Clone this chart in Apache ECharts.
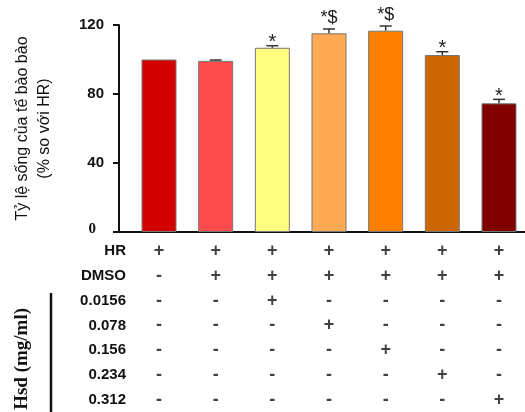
<!DOCTYPE html>
<html><head><meta charset="utf-8">
<script src="https://cdn.jsdelivr.net/npm/echarts@6/dist/echarts.min.js"></script>
<style>html,body{margin:0;padding:0;background:#fff}#c{width:525px;height:412px}</style>
</head><body><div id="c"></div>
<script>
// ---- data ----
const groups = ['HR', 'HR+DMSO', 'Hsd 0.0156', 'Hsd 0.078', 'Hsd 0.156', 'Hsd 0.234', 'Hsd 0.312'];
const values = [100, 99.2, 106.8, 115.2, 116.7, 102.6, 74.6];
const errors = [0, 0.5, 1.2, 2.5, 2.7, 1.9, 2.3];
const sigMarks = ['', '', '*', '*$', '*$', '*', '*'];
const barColors = ['#d40000', '#ff4b4b', '#ffff80', '#ffaa55', '#ff8000', '#cc6600', '#800000'];
const yTicks = [0, 40, 80, 120];
const rowLabels = ['HR', 'DMSO', '0.0156', '0.078', '0.156', '0.234', '0.312'];
const tableSigns = [
  ['+', '+', '+', '+', '+', '+', '+'],
  ['-', '+', '+', '+', '+', '+', '+'],
  ['-', '-', '+', '-', '-', '-', '-'],
  ['-', '-', '-', '+', '-', '-', '-'],
  ['-', '-', '-', '-', '+', '-', '-'],
  ['-', '-', '-', '-', '-', '+', '-'],
  ['-', '-', '-', '-', '-', '-', '+']
];
const yTitle = 'Tỷ lệ sống của tế bào bào\n(% so với HR)';
const tableTitle = 'Hsd (mg/ml)';

// ---- build ----
const FONT = 'Liberation Sans, Arial, sans-serif';
const barData = values.map((v, i) => ({ value: [i, v], itemStyle: { color: barColors[i] } }));
const errData = values.map((v, i) => [i, v, v + errors[i]]);
const tableData = [];
tableSigns.forEach((row, r) => row.forEach((s, c) => tableData.push([c, r, s])));

const chart = echarts.init(document.getElementById('c'));
chart.setOption({
  animation: false,
  backgroundColor: '#fff',
  grid: [
    { left: 119, right: 0, top: 25, bottom: 180 },
    { left: 128, right: 0, top: 239, height: 181 }
  ],
  xAxis: [
    { gridIndex: 0, type: 'value', min: -0.706, max: 6.459, axisLabel: { show: false },
      axisTick: { show: false }, splitLine: { show: false },
      axisLine: { show: true, onZero: false, lineStyle: { color: '#111', width: 2 } } },
    { gridIndex: 1, type: 'value', min: -0.547, max: 6.459, show: false }
  ],
  yAxis: [
    { gridIndex: 0, type: 'value', min: 0, max: 120, interval: 40,
      name: yTitle, nameLocation: 'middle', nameRotate: 90, nameGap: 63,
      nameTextStyle: { fontFamily: FONT, fontSize: 16, color: '#111', lineHeight: 22, align: 'center' },
      axisLine: { show: true, onZero: false, lineStyle: { color: '#111', width: 2 } },
      axisTick: { show: true, length: 6, lineStyle: { color: '#111', width: 2 } },
      splitLine: { show: false },
      axisLabel: { margin: 15, fontFamily: FONT, fontWeight: 'bold', fontSize: 15, color: '#111',
        formatter: v => v === 0 ? '{z|0}' : String(v),
        rich: { z: { fontFamily: 'Liberation Serif, serif', fontWeight: 'bold', fontSize: 15, color: '#111', padding: [0, 8, 6, 0] } } } },
    { gridIndex: 1, type: 'category', data: rowLabels, inverse: true,
      axisLine: { show: false }, axisTick: { show: false }, splitLine: { show: false },
      axisLabel: { margin: 2, fontFamily: FONT, fontWeight: 'bold', fontSize: 15, color: '#111' } }
  ],
  graphic: [
    { type: 'text', left: 13, top: 308, rotation: Math.PI / 2,
      style: { text: tableTitle, fontFamily: 'Liberation Serif, serif', fontWeight: 'bold', fontSize: 19, fill: '#111' } },
    { type: 'line', shape: { x1: 51, y1: 293, x2: 51, y2: 412 }, style: { stroke: '#111', lineWidth: 2.5 } }
  ],
  series: [
    { type: 'bar', xAxisIndex: 0, yAxisIndex: 0, data: barData, barWidth: 35,
      itemStyle: { borderColor: '#777', borderWidth: 1 } },
    { type: 'custom', xAxisIndex: 0, yAxisIndex: 0, data: errData, z: 5, clip: false,
      encode: { x: 0, y: [1, 2] },
      renderItem: function (params, api) {
        const x = api.value(0), v = api.value(1), t = api.value(2);
        const mark = sigMarks[params.dataIndex];
        const base = api.coord([x, v]);
        const top = api.coord([x, t]);
        const children = [];
        if (t > v) {
          children.push({ type: 'line', shape: { x1: base[0], y1: base[1], x2: top[0], y2: top[1] }, style: { stroke: '#333', lineWidth: 1.5 } });
          children.push({ type: 'line', shape: { x1: top[0] - 6, y1: top[1], x2: top[0] + 6, y2: top[1] }, style: { stroke: '#333', lineWidth: 1.5 } });
        }
        if (mark) {
          const hasS = mark.indexOf('$') >= 0;
          children.push({ type: 'text', style: { text: mark, x: top[0], y: hasS ? top[1] - 2 : top[1] + 7,
            align: 'center', verticalAlign: 'bottom', fontFamily: FONT, fontSize: hasS ? 18 : 20, fill: '#222' } });
        }
        return { type: 'group', children: children };
      } },
    { type: 'scatter', xAxisIndex: 1, yAxisIndex: 1, data: tableData, symbolSize: 4,
      itemStyle: { color: 'rgba(0,0,0,0)' },
      label: { show: true, position: 'inside', formatter: p => p.data[2],
        fontFamily: FONT, fontWeight: 'bold', fontSize: 18, color: '#111' } }
  ]
});
</script></body></html>
